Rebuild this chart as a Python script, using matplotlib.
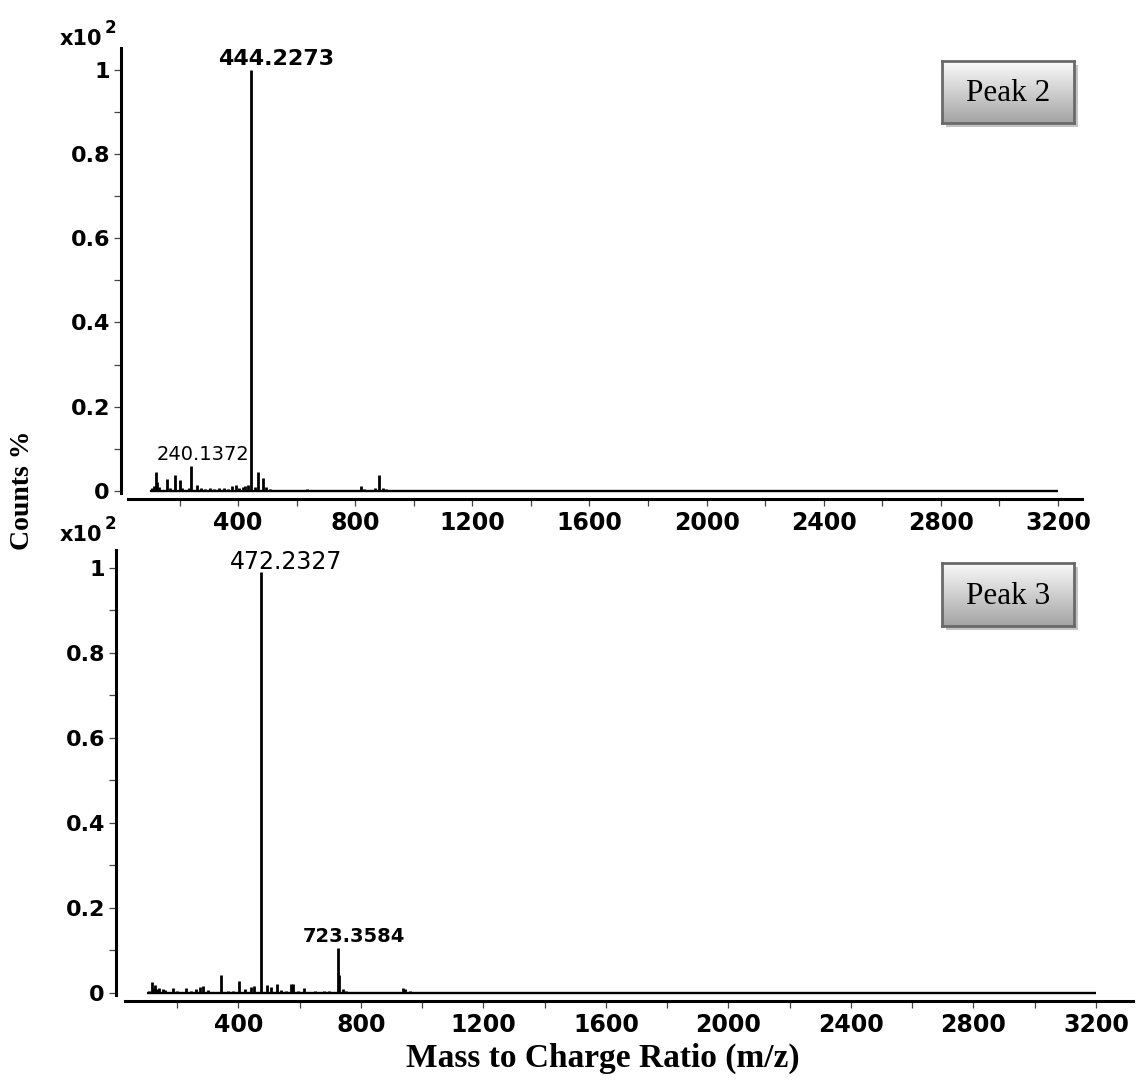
import numpy as np
import matplotlib
matplotlib.use("Agg")
import matplotlib.pyplot as plt
from matplotlib.colors import LinearSegmentedColormap
from matplotlib.ticker import FixedLocator, FuncFormatter

# ---- spectrum data (m/z, relative counts x10^2) ----
p2_mz = [105, 112, 119, 124, 131, 158, 167, 185, 201, 210, 231, 240.1372, 261, 273,
         286, 303, 317, 335, 352, 367, 378, 392, 403, 415, 425, 435, 444.2273, 457,
         467, 484, 495, 510, 575, 615, 635, 655, 700, 725, 820, 830, 868, 880, 895,
         905, 920, 935]
p2_int = [0.006, 0.012, 0.046, 0.020, 0.010, 0.029, 0.008, 0.038, 0.026, 0.006, 0.008,
          0.060, 0.014, 0.008, 0.005, 0.006, 0.005, 0.008, 0.006, 0.004, 0.012, 0.013,
          0.006, 0.010, 0.012, 0.014, 1.000, 0.010, 0.046, 0.030, 0.010, 0.004, 0.003,
          0.003, 0.004, 0.003, 0.003, 0.003, 0.012, 0.004, 0.006, 0.038, 0.006, 0.004,
          0.003, 0.003]

p3_mz = [108, 116.5, 122, 127, 135, 140, 152, 160, 185, 200, 229, 245, 262, 274, 285,
         300, 343, 365, 382, 403, 420, 440, 450, 472.2327, 492, 505, 525, 540, 555,
         570, 578, 595, 614, 650, 680, 695, 723.3584, 728, 741, 752, 860, 920, 938,
         945, 960, 1099]
p3_int = [0.005, 0.025, 0.012, 0.018, 0.008, 0.012, 0.010, 0.006, 0.012, 0.005, 0.012,
          0.005, 0.008, 0.013, 0.016, 0.006, 0.043, 0.004, 0.005, 0.028, 0.008, 0.014,
          0.015, 0.990, 0.019, 0.014, 0.022, 0.006, 0.005, 0.020, 0.020, 0.005, 0.011,
          0.004, 0.004, 0.004, 0.105, 0.042, 0.010, 0.004, 0.003, 0.003, 0.011, 0.008,
          0.004, 0.003]

scan_range = (100, 3200)
x_major = [400, 800, 1200, 1600, 2000, 2400, 2800, 3200]
x_minor = [200, 600, 1000, 1400, 1800, 2200, 2600, 3000]
y_major = [0, 0.2, 0.4, 0.6, 0.8, 1.0]
y_minor = [0.1, 0.3, 0.5, 0.7, 0.9]

SANS = "DejaVu Sans"
SERIF = "Liberation Serif"
DPI = 100
W, H = 1137, 1092

fig = plt.figure(figsize=(W / DPI, H / DPI), dpi=DPI)
fig.patch.set_facecolor("white")


def px(v):
    """pixels -> points"""
    return v * 72.0 / DPI


def draw_spectrum(ax, mz, inten, xlim, ylim, spine_start):
    ax.hlines(0, *scan_range, color="black", lw=1.7, zorder=3)
    ax.vlines(mz, 0, inten, color="black", lw=2.0, zorder=3)
    ax.set_xlim(*xlim)
    ax.set_ylim(*ylim)
    for s in ("top", "right"):
        ax.spines[s].set_visible(False)
    ax.spines["left"].set_linewidth(2.2)
    ax.spines["bottom"].set_linewidth(2.2)
    ax.spines["bottom"].set_position(("outward", px(6)))
    ax.spines["bottom"].set_bounds(spine_start, xlim[1])
    ax.xaxis.set_major_locator(FixedLocator(x_major))
    ax.xaxis.set_minor_locator(FixedLocator(x_minor))
    ax.yaxis.set_major_locator(FixedLocator(y_major))
    ax.yaxis.set_minor_locator(FixedLocator(y_minor))
    ax.yaxis.set_major_formatter(FuncFormatter(lambda v, p: f"{v:g}"))
    ax.tick_params(axis="both", which="both", direction="out", length=5,
                   width=0.9, color="#444444")
    ax.tick_params(axis="y", which="major", pad=3)
    ax.tick_params(axis="x", which="major", pad=4)
    for lab in ax.get_xticklabels():
        lab.set_fontfamily(SANS)
        lab.set_fontweight("bold")
        lab.set_fontsize(17)
    for lab in ax.get_yticklabels():
        lab.set_fontfamily(SANS)
        lab.set_fontweight("bold")
        lab.set_fontsize(16)


def scale_label(x0, y0):
    fig.text(x0 / W, 1 - y0 / H, "x10", fontfamily=SANS, fontweight="bold",
             fontsize=15, ha="left", va="baseline")
    fig.text((x0 + 45) / W, 1 - (y0 - 12) / H, "2", fontfamily=SANS,
             fontweight="bold", fontsize=12, ha="left", va="baseline")


def peak_box(x0, y0, x1, y1, label):
    # drop shadow as its own small axes beneath the box
    sax = fig.add_axes([(x0 + 4) / W, 1 - (y1 + 4) / H, (x1 - x0) / W, (y1 - y0) / H])
    sax.set_zorder(4)
    sax.set_facecolor("#c4c4c4")
    sax.set_xticks([])
    sax.set_yticks([])
    for s in sax.spines.values():
        s.set_visible(False)

    bax = fig.add_axes([x0 / W, 1 - y1 / H, (x1 - x0) / W, (y1 - y0) / H])
    bax.set_zorder(5)
    grad = np.linspace(0, 1, 256).reshape(-1, 1)
    cmap = LinearSegmentedColormap.from_list("box", ["#fbfbfb", "#a4a4a4"])
    bax.imshow(grad, aspect="auto", cmap=cmap, extent=(0, 1, 0, 1), origin="upper")
    bax.set_xticks([])
    bax.set_yticks([])
    for s in bax.spines.values():
        s.set_color("#6a6a6a")
        s.set_linewidth(2.0)
    bax.text(0.5, 0.47, label, transform=bax.transAxes, ha="center", va="center",
             fontfamily=SERIF, fontsize=22.5, color="black")


# ---- Peak 2 ----
ax1 = fig.add_axes([121 / W, 1 - 493 / H, 961 / W, 445 / H])
draw_spectrum(ax1, p2_mz, p2_int, (0, 3282), (-0.005, 1.052), 25)
i = p2_mz.index(444.2273)
ax1.annotate("444.2273", (p2_mz[i], p2_int[i]), xytext=(px(25), px(1)),
             textcoords="offset points", ha="center", va="bottom",
             fontfamily=SANS, fontweight="bold", fontsize=16)
i = p2_mz.index(240.1372)
ax1.annotate("240.1372", (p2_mz[i], p2_int[i]), xytext=(px(12), px(2)),
             textcoords="offset points", ha="center", va="bottom",
             fontfamily=SANS, fontsize=14)

# ---- Peak 3 ----
ax2 = fig.add_axes([116 / W, 1 - 995 / H, 1017 / W, 445 / H])
draw_spectrum(ax2, p3_mz, p3_int, (0, 3321), (-0.005, 1.042), 30)
i = p3_mz.index(472.2327)
ax2.annotate("472.2327", (p3_mz[i], p3_int[i]), xytext=(px(25), px(-2)),
             textcoords="offset points", ha="center", va="bottom",
             fontfamily=SANS, fontsize=17)
i = p3_mz.index(723.3584)
ax2.annotate("723.3584", (p3_mz[i], p3_int[i]), xytext=(px(16), px(2)),
             textcoords="offset points", ha="center", va="bottom",
             fontfamily=SANS, fontweight="bold", fontsize=14)

scale_label(60, 45)
scale_label(60, 541)

peak_box(942, 61, 1074, 123, "Peak 2")
peak_box(942, 563, 1074, 626, "Peak 3")

fig.text(23 / W, 1 - 490 / H, "Counts %", rotation=90, ha="center", va="center",
         fontfamily=SERIF, fontweight="bold", fontsize=20)
fig.text(603 / W, 1 - 1058 / H, "Mass to Charge Ratio (m/z)", ha="center",
         va="center", fontfamily=SERIF, fontweight="bold", fontsize=24)

fig.savefig("out.png", dpi=DPI, facecolor="white")
